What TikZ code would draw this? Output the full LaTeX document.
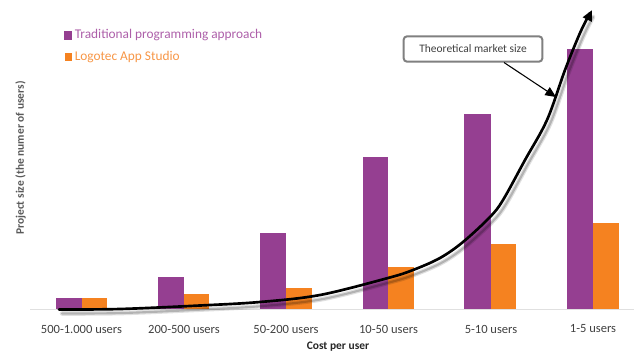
\documentclass[tikz,border=0pt]{standalone}
\usepackage{fontspec}
\setmainfont{Carlito}
\usetikzlibrary{arrows.meta}
\definecolor{barpurple}{HTML}{953F91}
\definecolor{barorange}{HTML}{F58220}
\definecolor{lblgray}{HTML}{404040}
\definecolor{titlegray}{HTML}{595959}
\definecolor{legpurple}{HTML}{AD5FA9}
\definecolor{legorange}{HTML}{F79646}
\tikzset{
  purplebar/.style={fill=barpurple,draw=none},
  orangebar/.style={fill=barorange,draw=none},
  catlabel/.style={font=\fontsize{9.4pt}{11pt}\selectfont,text=lblgray,inner sep=0pt,anchor=center},
  legtext/.style={font=\fontsize{10pt}{12pt}\selectfont,inner sep=0pt,anchor=west},
  axistitle/.style={font=\bfseries\fontsize{8.6pt}{10pt}\selectfont,inner sep=0pt},
  callout/.style={draw=black!50,line width=1.5pt,rounded corners=2.5pt,fill=white,minimum width=104pt,minimum height=19pt,inner sep=0pt,text=lblgray,font=\fontsize{8.6pt}{10pt}\selectfont},
  marketcurve/.style={line width=2pt,black,line cap=round},
  curveshadow/.style={line width=1.6pt,black,line cap=round},
}
\def\curvepts{(59,309.5) (120,309) (200,305.5) (260,302) (320,295) (388,278) (413,270) (440,258) (463,242) (490,217) (503,200) (525,160) (547,120) (565,70) (580,33) (590,13)}
\begin{document}
\begin{tikzpicture}[x=0.75pt,y=-0.75pt]
\useasboundingbox (0,0) rectangle (634,354);
\draw[black!12,line width=0.75pt] (30,309.5) -- (634,309.5);
% bars
\fill[purplebar] (56,298) rectangle (81.5,309);
\fill[orangebar] (81.5,298) rectangle (107,309);
\fill[purplebar] (158,277) rectangle (183.5,309);
\fill[orangebar] (183.5,293.5) rectangle (209,309);
\fill[purplebar] (260,233) rectangle (286,309);
\fill[orangebar] (286,288) rectangle (312,309);
\fill[purplebar] (362.5,157) rectangle (388,309);
\fill[orangebar] (388,266.5) rectangle (414,309);
\fill[purplebar] (464,114) rectangle (491,309);
\fill[orangebar] (491,244) rectangle (516,309);
\fill[purplebar] (567,49) rectangle (593,309);
\fill[orangebar] (593,222.5) rectangle (618.5,309);
% curve shadow
\begin{scope}[shift={(3,4)}]
\draw[curveshadow,opacity=.12,line width=3.4pt] plot[smooth,tension=.55] coordinates {\curvepts};
\draw[curveshadow,opacity=.2] plot[smooth,tension=.55] coordinates {\curvepts};
\end{scope}
% curve
\coordinate (tip) at (592,10);
\draw[marketcurve] plot[smooth,tension=.55] coordinates {\curvepts};
\draw[marketcurve,-{Triangle[length=8pt,width=7pt]}] (588,18) -- (tip);
% legend
\fill[barpurple] (63.5,31) rectangle (71.5,39.5);
\node[legtext,text=legpurple] (legA) at (74.5,35) {Traditional programming approach};
\fill[barorange] (64.5,52.5) rectangle (71.5,60.5);
\node[legtext,text=legorange] (legB) at (74.5,57) {Logotec App Studio};
% callout
\node[callout] (call) at (473,49) {Theoretical market size};
\coordinate (callEnd) at (556,97);
\draw[black,line width=0.8pt,-{Triangle[length=8pt,width=7pt]}] (504,62.5) -- (callEnd);
% categories
\node[catlabel] (c1) at (81.5,329) {500-1.000 users};
\node[catlabel] (c2) at (184,329) {200-500 users};
\node[catlabel] (c3) at (286,329) {50-200 users};
\node[catlabel] (c4) at (388.5,329) {10-50 users};
\node[catlabel] (c5) at (491,329) {5-10 users};
\node[catlabel] (c6) at (593,329) {1-5 users};
% axis titles
\node[axistitle,text=black!85] (xt) at (338,346.5) {Cost per user};
\node[axistitle,text=titlegray,rotate=90] (yt) at (20.5,158) {Project size (the numer of users)};
\end{tikzpicture}
\end{document}
